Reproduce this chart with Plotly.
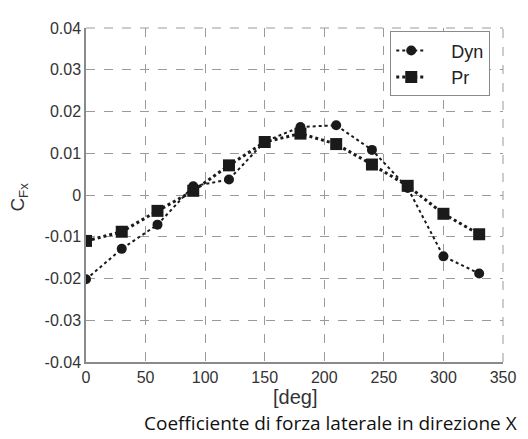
import plotly.graph_objects as go

angles = [0, 30, 60, 90, 120, 150, 180, 210, 240, 270, 300, 330]
dyn = [-0.0202, -0.0129, -0.0071, 0.0021, 0.0037, 0.0128, 0.0163, 0.0167, 0.0108, 0.0017, -0.0147, -0.0188]
pr = [-0.0110, -0.0088, -0.0038, 0.0010, 0.0071, 0.0127, 0.0147, 0.0122, 0.0073, 0.0022, -0.0045, -0.0094]
x_ticks = [0, 50, 100, 150, 200, 250, 300, 350]
y_ticks = [-0.04, -0.03, -0.02, -0.01, 0, 0.01, 0.02, 0.03, 0.04]
y_tick_labels = ["-0.04", "-0.03", "-0.02", "-0.01", "0", "0.01", "0.02", "0.03", "0.04"]
series_names = ["\u00a0\u00a0\u00a0\u00a0Dyn", "\u00a0\u00a0\u00a0\u00a0Pr"]

fig = go.Figure()
fig.add_trace(go.Scatter(x=angles, y=dyn, name=series_names[0], mode="lines+markers",
                         line=dict(color="#1a1a1a", width=2, dash="dot"),
                         marker=dict(symbol="circle", size=10, color="#1a1a1a")))
fig.add_trace(go.Scatter(x=angles, y=pr, name=series_names[1], mode="lines+markers",
                         line=dict(color="#1a1a1a", width=3, dash="dot"),
                         marker=dict(symbol="square", size=12, color="#1a1a1a")))

font_fam = "Liberation Sans"
grid = dict(showgrid=True, gridcolor="#9a9a9a", gridwidth=1, griddash="dash",
            zeroline=False, showline=True, linecolor="#8a8a8a", linewidth=1.5,
            ticks="", tickfont=dict(family=font_fam, size=16, color="#333"))

fig.update_xaxes(range=[0, 350], tickvals=x_ticks, **grid)
fig.update_yaxes(range=[-0.04, 0.04], tickvals=y_ticks, ticktext=y_tick_labels, **grid)

# dashed top/right borders (grid lines at the range ends)
fig.add_shape(type="line", xref="paper", yref="paper", x0=0, x1=1, y0=1, y1=1,
              line=dict(color="#9a9a9a", width=1, dash="dash"))
fig.add_shape(type="line", xref="paper", yref="paper", x0=1, x1=1, y0=0, y1=1,
              line=dict(color="#9a9a9a", width=1, dash="dash"))

fig.add_annotation(text="[deg]", xref="paper", yref="paper", x=0.5, y=-0.106,
                   showarrow=False, font=dict(family=font_fam, size=20, color="#333"),
                   xanchor="center", yanchor="middle")
fig.add_annotation(text="C<sub>Fx</sub>", xref="paper", yref="paper", x=-0.16, y=0.493,
                   showarrow=False, textangle=-90, font=dict(family=font_fam, size=19, color="#333"),
                   xanchor="center", yanchor="middle")
fig.add_annotation(text="Coefficiente di forza laterale in direzione X", xref="paper", yref="paper",
                   x=0.134, y=-0.182, showarrow=False,
                   font=dict(family="Open Sans", size=19, color="#111"),
                   xanchor="left", yanchor="middle")

fig.update_layout(
    width=520, height=431,
    margin=dict(l=78, r=23, t=14, b=77),
    paper_bgcolor="white", plot_bgcolor="white",
    showlegend=True,
    legend=dict(x=0.7296, y=0.99, xanchor="left", yanchor="top",
                bordercolor="#8a8a8a", borderwidth=1, bgcolor="white",
                font=dict(family=font_fam, size=18, color="#222"),
                itemwidth=30, tracegroupgap=0),
)

fig.write_html("out.html")
